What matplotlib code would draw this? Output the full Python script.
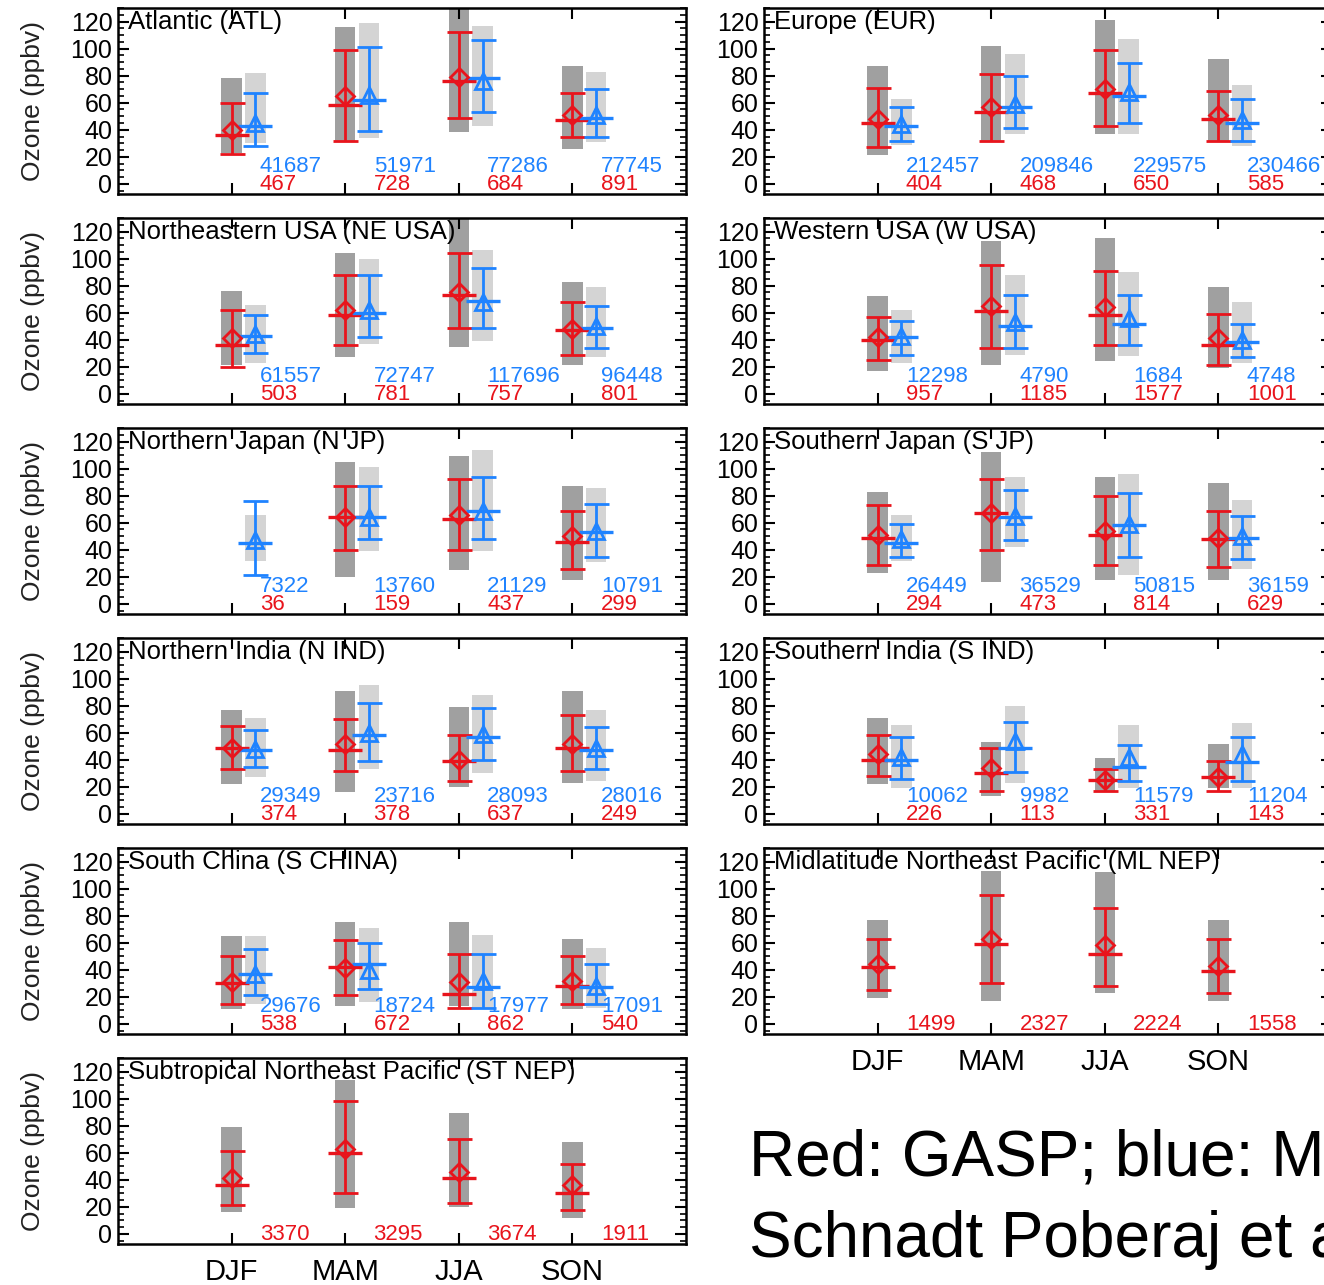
import matplotlib
matplotlib.use("Agg")
import matplotlib.pyplot as plt
from matplotlib.ticker import MultipleLocator

# seasons and regions
seasons = ["DJF", "MAM", "JJA", "SON"]
regions = ["Atlantic (ATL)", "Europe (EUR)",
           "Northeastern USA (NE USA)", "Western USA (W USA)",
           "Northern Japan (N JP)", "Southern Japan (S JP)",
           "Northern India (N IND)", "Southern India (S IND)",
           "South China (S CHINA)", "Midlatitude Northeast Pacific (ML NEP)",
           "Subtropical Northeast Pacific (ST NEP)"]

# GASP (red): grey range bar, error bar, marker (diamond), horizontal line
gasp_bar_lo = [[23, 32, 38, 26], [21, 32, 37, 32], [21, 27, 35, 21], [17, 21, 24, 19],
               [None, 20, 25, 18], [23, 16, 18, 18], [22, 16, 20, 23], [22, 13, 16, 19],
               [11, 13, 13, 11], [19, 17, 23, 17], [16, 19, 20, 12]]
gasp_bar_hi = [[78, 116, 135, 87], [87, 102, 121, 92], [76, 104, 135, 83], [72, 113, 115, 79],
               [None, 105, 109, 87], [83, 112, 94, 89], [77, 91, 79, 91], [71, 53, 41, 52],
               [65, 75, 75, 63], [77, 113, 112, 77], [79, 114, 89, 68]]
gasp_err_lo = [[22, 32, 49, 35], [27, 32, 43, 32], [20, 36, 49, 29], [25, 34, 36, 21],
               [None, 40, 40, 26], [29, 40, 29, 27], [33, 32, 24, 32], [28, 17, 17, 17],
               [15, 21, 12, 15], [25, 30, 28, 23], [21, 30, 23, 18]]
gasp_err_hi = [[60, 99, 112, 67], [71, 81, 99, 69], [62, 88, 104, 68], [57, 95, 91, 59],
               [None, 87, 92, 69], [73, 92, 80, 69], [65, 70, 58, 73], [58, 49, 33, 39],
               [50, 62, 52, 50], [63, 95, 86, 63], [61, 98, 70, 52]]
gasp_mark = [[40, 65, 79, 51], [48, 57, 70, 51], [41, 62, 75, 48], [42, 65, 64, 41],
             [None, 64, 66, 50], [51, 67, 54, 49], [49, 52, 40, 52], [44, 34, 25, 27],
             [31, 41, 31, 32], [44, 63, 58, 43], [41, 63, 46, 36]]
gasp_line = [[36, 58, 76, 47], [45, 53, 67, 48], [36, 58, 73, 47], [40, 61, 58, 36],
             [None, 64, 63, 46], [49, 67, 51, 48], [49, 47, 39, 49], [40, 30, 25, 27],
             [30, 42, 22, 28], [42, 59, 52, 39], [36, 60, 41, 30]]
gasp_n = [[467, 728, 684, 891], [404, 468, 650, 585], [503, 781, 757, 801], [957, 1185, 1577, 1001],
          [36, 159, 437, 299], [294, 473, 814, 629], [374, 378, 637, 249], [226, 113, 331, 143],
          [538, 672, 862, 540], [1499, 2327, 2224, 1558], [3370, 3295, 3674, 1911]]

# MOZAIC (blue)
moz_bar_lo = [[30, 34, 43, 31], [29, 37, 37, 28], [23, 37, 39, 27], [23, 29, 28, 23],
              [32, 39, 39, 31], [32, 42, 21, 26], [27, 33, 30, 24], [19, 23, 19, 19],
              [15, 16, 12, 12], None, None]
moz_bar_hi = [[82, 119, 117, 83], [63, 96, 107, 73], [66, 100, 106, 79], [62, 88, 90, 68],
              [66, 101, 114, 86], [66, 94, 96, 77], [71, 95, 88, 77], [66, 80, 66, 67],
              [65, 71, 66, 56], None, None]
moz_err_lo = [[28, 39, 53, 35], [32, 41, 45, 32], [30, 42, 49, 34], [29, 34, 36, 27],
              [21, 48, 48, 35], [35, 47, 35, 33], [35, 39, 40, 33], [26, 31, 24, 24],
              [21, 26, 12, 15], None, None]
moz_err_hi = [[67, 101, 106, 70], [57, 80, 89, 63], [58, 88, 93, 65], [54, 73, 73, 52],
              [76, 87, 94, 74], [59, 84, 82, 65], [62, 82, 78, 64], [57, 68, 51, 57],
              [55, 60, 52, 44], None, None]
moz_mark = [[45, 66, 76, 51], [44, 59, 68, 47], [44, 62, 68, 50], [43, 53, 56, 40],
            [47, 64, 69, 54], [48, 65, 59, 50], [48, 60, 59, 49], [42, 54, 42, 44],
            [37, 40, 32, 28], None, None]
moz_line = [[43, 62, 78, 49], [43, 57, 65, 45], [43, 60, 69, 49], [42, 50, 52, 38],
            [45, 64, 69, 53], [45, 64, 58, 49], [47, 58, 57, 47], [40, 49, 35, 38],
            [37, 44, 27, 27], None, None]
moz_n = [[41687, 51971, 77286, 77745], [212457, 209846, 229575, 230466],
         [61557, 72747, 117696, 96448], [12298, 4790, 1684, 4748],
         [7322, 13760, 21129, 10791], [26449, 36529, 50815, 36159],
         [29349, 23716, 28093, 28016], [10062, 9982, 11579, 11204],
         [29676, 18724, 17977, 17091], None, None]

RED = "#e8141c"
BLUE = "#1f83ff"
DARK = "#a0a0a0"
LIGHT = "#d4d4d4"

plt.rcParams["font.family"] = ["Liberation Sans", "DejaVu Sans"]

W, H = 1324, 1285
fig = plt.figure(figsize=(W / 100, H / 100), dpi=100)


def draw_set(ax, xs, lo, hi, elo, ehi, mk, ln, color, barcolor, marker, ms):
    for i, x in enumerate(xs):
        if mk[i] is None:
            continue
        ax.bar(x, hi[i] - lo[i], bottom=lo[i], width=0.18, color=barcolor, zorder=1)
        ax.errorbar(x, mk[i], yerr=[[mk[i] - elo[i]], [ehi[i] - mk[i]]], fmt="none",
                    ecolor=color, elinewidth=2, capsize=9, capthick=2, zorder=3)
        ax.hlines(ln[i], x - 0.15, x + 0.15, colors=color, lw=2.4, zorder=3)
        ax.plot(x, mk[i], marker=marker, ms=ms, mfc="none", mec=color, mew=2,
                ls="none", zorder=4)


for k, name in enumerate(regions):
    row, col = k // 2, k % 2
    left = 118 if col == 0 else 764
    top = 8 + 210 * row
    ax = fig.add_axes([left / W, 1 - (top + 186) / H, 568 / W, 186 / H])
    ax.set_xlim(0, 5)
    ax.set_ylim(-7.5, 130)
    xs = [1, 2, 3, 4]

    draw_set(ax, xs, gasp_bar_lo[k], gasp_bar_hi[k], gasp_err_lo[k], gasp_err_hi[k],
             gasp_mark[k], gasp_line[k], RED, DARK, "D", 9)
    if moz_mark[k] is not None:
        xb = [x + 0.21 for x in xs]
        draw_set(ax, xb, moz_bar_lo[k], moz_bar_hi[k], moz_err_lo[k], moz_err_hi[k],
                 moz_mark[k], moz_line[k], BLUE, LIGHT, "^", 12)
        for i, x in enumerate(xs):
            ax.text(x + 0.25, 13, str(moz_n[k][i]), color=BLUE, fontsize=16,
                    ha="left", va="center", zorder=5)
    for i, x in enumerate(xs):
        ax.text(x + 0.25, -0.5, str(gasp_n[k][i]), color=RED, fontsize=16,
                ha="left", va="center", zorder=5)

    ax.text(0.09, 120, name, fontsize=18.5, ha="left", va="center", zorder=5)

    ax.set_yticks([0, 20, 40, 60, 80, 100, 120])
    ax.yaxis.set_minor_locator(MultipleLocator(5))
    ax.set_xticks(xs)
    ax.tick_params(direction="in", top=True, right=True, length=8, width=1.5,
                   labelsize=18, pad=4)
    ax.tick_params(which="minor", direction="in", right=True, length=4, width=1.2)
    for s in ax.spines.values():
        s.set_linewidth(1.8)

    if k in (9, 10):
        ax.set_xticklabels(seasons, fontsize=21)
        ax.tick_params(axis="x", pad=10)
    else:
        ax.set_xticklabels([])
    if col == 0:
        ax.set_ylabel("Ozone (ppbv)", fontsize=19, color="#222222")
        ax.yaxis.set_label_coords(-0.128, 0.5)

# the reference is cropped on the right, so these lines run off the figure
fig.text(749 / W, 1 - 1176 / H, "Red: GASP; blue: MOZAIC", fontsize=46,
         ha="left", va="baseline")
fig.text(749 / W, 1 - 1257 / H, "Schnadt Poberaj et al.", fontsize=46,
         ha="left", va="baseline")

fig.savefig("out.png", dpi=100)
